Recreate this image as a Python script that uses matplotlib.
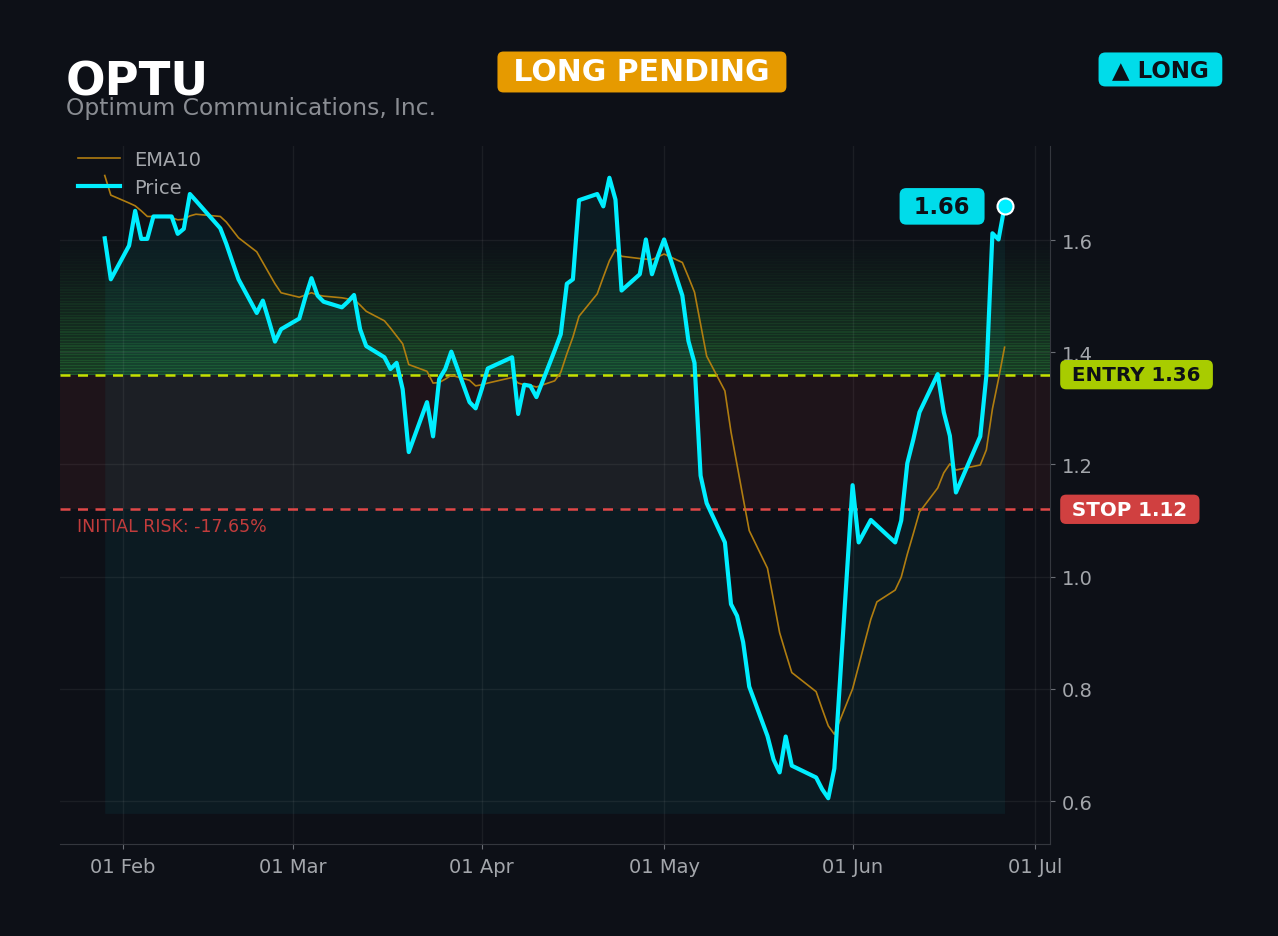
import numpy as np
import pandas as pd
import matplotlib
matplotlib.use('Agg')
from matplotlib import pyplot as plt
import matplotlib.dates as mdates
from matplotlib.ticker import FormatStrFormatter

# DATA
TICKER = 'OPTU'
COMPANY = 'Optimum Communications, Inc.'
STATUS = 'LONG PENDING'
SIDE = '▲ LONG'
ENTRY = 1.36
STOP = 1.12
TARGET_TOP = 1.60
RISK_PCT = -17.65

dates = [
    '2026-01-29', '2026-01-30', '2026-02-02', '2026-02-03', '2026-02-04', '2026-02-05', '2026-02-06',
    '2026-02-09', '2026-02-10', '2026-02-11', '2026-02-12', '2026-02-13', '2026-02-17', '2026-02-18',
    '2026-02-19', '2026-02-20', '2026-02-23', '2026-02-24', '2026-02-25', '2026-02-26', '2026-02-27',
    '2026-03-02', '2026-03-03', '2026-03-04', '2026-03-05', '2026-03-06', '2026-03-09', '2026-03-10',
    '2026-03-11', '2026-03-12', '2026-03-13', '2026-03-16', '2026-03-17', '2026-03-18', '2026-03-19',
    '2026-03-20', '2026-03-23', '2026-03-24', '2026-03-25', '2026-03-26', '2026-03-27', '2026-03-30',
    '2026-03-31', '2026-04-01', '2026-04-02', '2026-04-06', '2026-04-07', '2026-04-08', '2026-04-09',
    '2026-04-10', '2026-04-13', '2026-04-14', '2026-04-15', '2026-04-16', '2026-04-17', '2026-04-20',
    '2026-04-21', '2026-04-22', '2026-04-23', '2026-04-24', '2026-04-27', '2026-04-28', '2026-04-29',
    '2026-04-30', '2026-05-01', '2026-05-04', '2026-05-05', '2026-05-06', '2026-05-07', '2026-05-08',
    '2026-05-11', '2026-05-12', '2026-05-13', '2026-05-14', '2026-05-15', '2026-05-18', '2026-05-19',
    '2026-05-20', '2026-05-21', '2026-05-22', '2026-05-26', '2026-05-27', '2026-05-28', '2026-05-29',
    '2026-06-01', '2026-06-02', '2026-06-03', '2026-06-04', '2026-06-05', '2026-06-08', '2026-06-09',
    '2026-06-10', '2026-06-11', '2026-06-12', '2026-06-15', '2026-06-16', '2026-06-17', '2026-06-18',
    '2026-06-22', '2026-06-23', '2026-06-24', '2026-06-25', '2026-06-26',
]

price = [
    1.603, 1.530, 1.590, 1.652, 1.602, 1.602, 1.642,
    1.642, 1.611, 1.620, 1.682, 1.670, 1.621, 1.593,
    1.561, 1.530, 1.470, 1.492, 1.456, 1.419, 1.441,
    1.460, 1.498, 1.532, 1.501, 1.490, 1.480, 1.490,
    1.502, 1.441, 1.411, 1.391, 1.370, 1.381, 1.334,
    1.222, 1.311, 1.250, 1.352, 1.370, 1.401, 1.311,
    1.300, 1.334, 1.371, 1.391, 1.290, 1.342, 1.340,
    1.320, 1.403, 1.432, 1.522, 1.530, 1.671, 1.682,
    1.660, 1.711, 1.672, 1.510, 1.539, 1.601, 1.539,
    1.572, 1.601, 1.501, 1.420, 1.381, 1.180, 1.131,
    1.061, 0.951, 0.930, 0.883, 0.804, 0.716, 0.674,
    0.651, 0.715, 0.663, 0.642, 0.621, 0.605, 0.658,
    1.163, 1.061, 1.081, 1.101, 1.091, 1.061, 1.100,
    1.202, 1.245, 1.293, 1.361, 1.293, 1.251, 1.150,
    1.250, 1.358, 1.612, 1.601, 1.660,
]

ema10 = [
    1.715, 1.680, 1.666, 1.661, 1.652, 1.642, 1.642,
    1.640, 1.636, 1.637, 1.643, 1.646, 1.642, 1.632,
    1.618, 1.604, 1.579, 1.560, 1.541, 1.522, 1.506,
    1.498, 1.502, 1.506, 1.502, 1.500, 1.497, 1.495,
    1.494, 1.484, 1.473, 1.456, 1.443, 1.429, 1.415,
    1.378, 1.366, 1.345, 1.346, 1.352, 1.359, 1.350,
    1.340, 1.342, 1.345, 1.355, 1.345, 1.342, 1.341,
    1.338, 1.349, 1.364, 1.397, 1.427, 1.464, 1.504,
    1.534, 1.563, 1.583, 1.571, 1.567, 1.566, 1.565,
    1.570, 1.575, 1.560, 1.534, 1.507, 1.450, 1.393,
    1.331, 1.258, 1.199, 1.140, 1.082, 1.015, 0.958,
    0.900, 0.864, 0.829, 0.795, 0.764, 0.734, 0.719,
    0.800, 0.841, 0.883, 0.924, 0.955, 0.976, 0.999,
    1.040, 1.077, 1.115, 1.158, 1.185, 1.201, 1.190,
    1.199, 1.226, 1.299, 1.352, 1.409,
]

# STYLE
BG = '#0d1017'
CYAN = '#00eeff'
TEXT_GREY = '#a3a6ab'

dt = pd.to_datetime(dates)
fill_floor = 0.578

fig = plt.figure(figsize=(12.78, 9.37), dpi=100, facecolor=BG)
ax = fig.add_axes([0.04695, 0.09819, 0.77465, 0.74493])
ax.set_facecolor(BG)

# zones: striped green gradient above entry, red tint for the risk
edges = np.linspace(ENTRY, TARGET_TOP, 49)
for i in range(len(edges) - 1):
    a = 0.37 * (1 - i / (len(edges) - 1)) ** 1.2 + 0.01
    h = edges[i + 1] - edges[i]
    ax.axhspan(edges[i], edges[i] + h * 0.4, color='#3ccf50', alpha=a, lw=0, zorder=0)
    ax.axhspan(edges[i] + h * 0.4, edges[i + 1], color='#3ccf50', alpha=a * 0.63, lw=0, zorder=0)
ax.axhspan(STOP, ENTRY, color='#ef4444', alpha=0.08, lw=0, zorder=0)

ax.fill_between(dt, price, fill_floor, color=CYAN, alpha=0.05, lw=0, zorder=1)

ax.axhline(ENTRY, color='#c6e000', lw=1.8, ls=(0, (4, 3)), zorder=3)
ax.axhline(STOP, color='#e04848', lw=1.8, ls=(0, (4, 3)), zorder=3)

ax.plot(dt, ema10, color='#b07d10', lw=1.2, label='EMA10', zorder=4)
ax.plot(dt, price, color=CYAN, lw=3, label='Price', zorder=5)
ax.plot(dt[-1], price[-1], 'o', ms=11.5, mfc=CYAN, mec='white', mew=1.5, zorder=6)

# axes formatting
x0 = pd.Timestamp('2026-02-01')
ax.set_xlim(x0 - pd.Timedelta(days=10.36), x0 + pd.Timedelta(days=152.47))
ax.set_ylim(0.5234, 1.7676)
ax.xaxis.set_major_locator(mdates.MonthLocator())
ax.xaxis.set_major_formatter(mdates.DateFormatter('%d %b'))
ax.set_yticks([0.6, 0.8, 1.0, 1.2, 1.4, 1.6])
ax.yaxis.set_major_formatter(FormatStrFormatter('%.1f'))
ax.yaxis.tick_right()
ax.tick_params(colors='#6b6e75', labelcolor=TEXT_GREY, labelsize=14)
ax.tick_params(axis='x', pad=6)
ax.tick_params(axis='y', pad=5)
ax.grid(True, color='white', alpha=0.06, lw=1)
for side in ['top', 'left']:
    ax.spines[side].set_visible(False)
for side in ['right', 'bottom']:
    ax.spines[side].set_color('#34373e')

leg = ax.legend(loc='upper left', bbox_to_anchor=(0, 1.020), frameon=False, fontsize=14,
                handlelength=2.2, handletextpad=0.7, labelspacing=0.5)
for t in leg.get_texts():
    t.set_color(TEXT_GREY)

# labels
ytr = ax.get_yaxis_transform()
ax.text(1.0155, ENTRY, ' ENTRY 1.36 ', transform=ytr, ha='left', va='center', fontsize=14.3,
        fontweight='bold', color='#0d1017', clip_on=False,
        bbox=dict(boxstyle='round,pad=0.26,rounding_size=0.3', fc='#a8cc00', ec='none'))
ax.text(1.0155, STOP, ' STOP 1.12 ', transform=ytr, ha='left', va='center', fontsize=14.3,
        fontweight='bold', color='white', clip_on=False,
        bbox=dict(boxstyle='round,pad=0.26,rounding_size=0.3', fc='#d04040', ec='none'))
ax.text(0.017, 1.09, f'INITIAL RISK: {RISK_PCT:.2f}%', transform=ytr, ha='left', va='center',
        fontsize=12.5, color='#c23c3c')
ax.annotate(f' {price[-1]:.2f} ', xy=(dt[-1], price[-1]), xytext=(-45, 0), textcoords='offset points',
            ha='center', va='center', fontsize=16.3, fontweight='bold', color='#0d1017',
            bbox=dict(boxstyle='round,pad=0.3,rounding_size=0.3', fc='#00dcea', ec='none'), zorder=7)

fig.text(0.0516, 0.8986, TICKER, fontsize=33.5, fontweight='bold', color='white', va='baseline')
fig.text(0.0516, 0.8773, COMPANY, fontsize=16.8, color='#8a8d93', va='baseline')
fig.text(0.5023, 0.9221, f' {STATUS} ', fontsize=21.5, fontweight='bold', color='white',
         ha='center', va='center',
         bbox=dict(boxstyle='round,pad=0.2,rounding_size=0.2', fc='#e69a00', ec='none'))
fig.text(0.908, 0.9248, f' {SIDE} ', fontsize=16.5, fontweight='bold', color='#0d1017',
         ha='center', va='center',
         bbox=dict(boxstyle='round,pad=0.24,rounding_size=0.3', fc='#00dcea', ec='none'))

fig.savefig('out.png', dpi=100, facecolor=BG)
